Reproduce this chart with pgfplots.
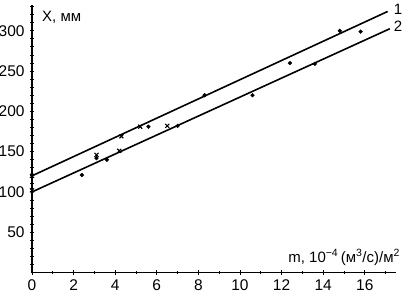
\documentclass[border=0pt]{standalone}
\usepackage{pgfplots}
\pgfplotsset{compat=1.18}
\usepackage{fontspec}
\setmainfont{Liberation Sans}
\begin{document}
\fontsize{15}{18}\selectfont
\begin{tikzpicture}
\begin{axis}[
  name=ax,
  scale only axis, width=364pt, height=267.5pt,
  xmin=0, xmax=17.5, ymin=0, ymax=332,
  axis x line=bottom, axis y line=left,
  axis line style={line width=1.7pt, -},
  xtick={0,2,...,16}, minor xtick={1,3,...,17},
  ytick={50,100,...,300}, minor ytick={10,20,...,330},
  tick align=center, major tick length=4.5pt, minor tick length=3.5pt,
  tick style={line width=0.9pt, black},
  every tick label/.append style={font=\fontsize{15.5}{18}\selectfont},
  /pgf/number format/assume math mode=true,
  clip=false,
]
\addplot[black, line width=1.6pt] coordinates {(0,120) (17.1,324)};
\addplot[black, line width=1.6pt] coordinates {(0,100) (17.2,302.5)};
\addplot[only marks, mark=x, mark size=2.8pt, line width=1.1pt, black] coordinates {
  (0,120) (0,102) (3.1,146) (4.2,151) (4.3,169) (5.2,181) (6.5,182)};
\addplot[only marks, mark=*, mark size=1.9pt, black] coordinates {
  (2.4,121) (3.1,142) (3.6,140) (5.6,181) (7.0,182) (8.3,220) (10.6,220)
  (12.4,260) (13.6,259) (14.8,300) (15.8,299)};
\node[anchor=center, inner sep=0pt] at (axis cs:17.6,326) {1};
\node[anchor=center, inner sep=0pt] at (axis cs:17.6,305) {2};
\node[anchor=west, inner sep=0pt] at (axis cs:0.48,317) {X, мм};
\node[anchor=base east, inner sep=0pt] at (axis cs:17.7,13) {m, 10\textsuperscript{−4}\,(м\textsuperscript{3}/с)/м\textsuperscript{2}};
\end{axis}
\pgfresetboundingbox
\path[use as bounding box] ([shift={(-32pt,-25.5pt)}]ax.south west) rectangle ([shift={(377pt,272.5pt)}]ax.south west);
\end{tikzpicture}
\end{document}
